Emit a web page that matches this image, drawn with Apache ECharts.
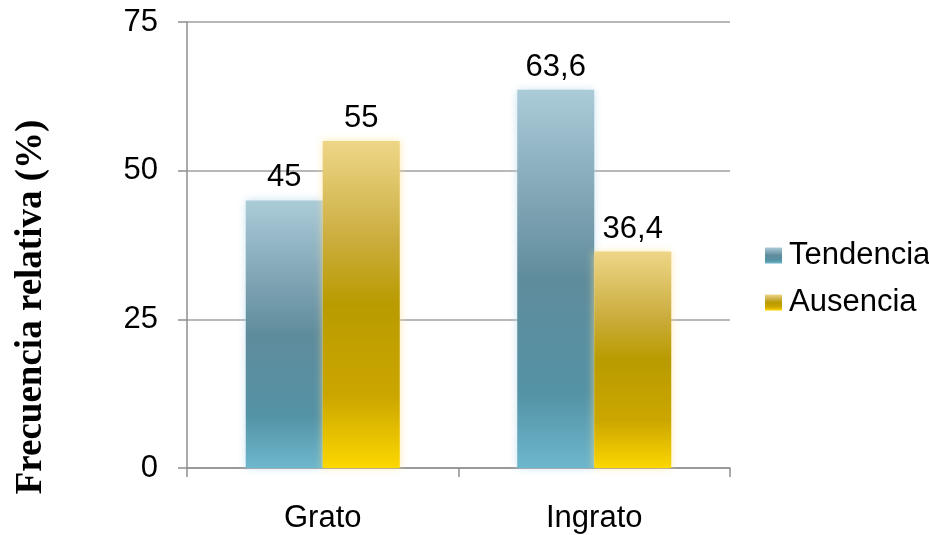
<!DOCTYPE html>
<html>
<head>
<meta charset="utf-8">
<style>
  html, body { margin: 0; padding: 0; background: #ffffff; }
  #chart { width: 929px; height: 535px; }
</style>
<script src="https://cdn.jsdelivr.net/npm/echarts@6/dist/echarts.min.js"></script>
</head>
<body>
<div id="chart"></div>
<script>
// Categories and series values (percent)
const categories = ['Grato', 'Ingrato'];
const tendencia = [45, 63.6];
const ausencia = [55, 36.4];
const yTicks = [0, 25, 50, 75];

const FONT = '"Liberation Sans", Arial, sans-serif';
const FS = 31;

function grad(stops) {
  return new echarts.graphic.LinearGradient(0, 0, 0, 1,
    stops.map(s => ({ offset: s[0], color: s[1] })));
}

const blueGrad = () => grad([
  [0, '#abcbd8'], [0.3, '#7fa4b4'], [0.5, '#5f8c9c'],
  [0.8, '#5492a5'], [1, '#6db7cd']
]);
const goldGrad = () => grad([
  [0, '#eed688'], [0.3, '#cbad3e'], [0.5, '#b99b00'],
  [0.78, '#cba600'], [1, '#fcd700']
]);

// Decimal comma for the value labels
const labelFmt = p => String(p.value).replace('.', ',');

const chart = echarts.init(document.getElementById('chart'), null, { renderer: 'canvas' });

chart.setOption({
  animation: false,
  backgroundColor: '#ffffff',
  grid: {
    left: 187, right: 199, top: 22, bottom: 67,
    containLabel: false,
    outerBoundsMode: 'none'
  },
  legend: {
    orient: 'vertical',
    left: 760,
    top: 235,
    itemWidth: 17,
    itemHeight: 16,
    itemGap: 16,
    icon: 'rect',
    textStyle: { fontFamily: FONT, fontSize: FS, color: '#000000', padding: [0, 0, 0, 2] },
    data: ['Tendencia', 'Ausencia']
  },
  xAxis: {
    type: 'category',
    data: categories,
    boundaryGap: true,
    axisLine: { lineStyle: { color: '#8e8e8e', width: 1.5 } },
    axisTick: { show: true, length: 9, lineStyle: { color: '#8e8e8e', width: 1.5 } },
    axisLabel: { fontFamily: FONT, fontSize: FS, color: '#000000', margin: 35 }
  },
  yAxis: {
    type: 'value',
    min: yTicks[0],
    max: yTicks[yTicks.length - 1],
    interval: 25,
    name: 'Frecuencia relativa (%)',
    nameLocation: 'middle',
    nameGap: 137,
    nameRotate: 90,
    nameTextStyle: {
      fontFamily: '"Liberation Serif", "Times New Roman", serif',
      fontWeight: 'bold', fontSize: 37, color: '#000000',
      padding: [0, 124, 0, 0]
    },
    axisLine: { show: true, lineStyle: { color: '#8e8e8e', width: 1.5 } },
    axisTick: { show: true, length: 9, lineStyle: { color: '#8e8e8e', width: 1.5 } },
    axisLabel: { fontFamily: FONT, fontSize: FS, color: '#000000', margin: 29 },
    splitLine: { show: true, lineStyle: { color: '#a0a0a0', width: 1.5 } }
  },
  series: [
    {
      name: 'Tendencia',
      type: 'bar',
      data: tendencia,
      barWidth: 77,
      barGap: '0%',
      itemStyle: {
        color: blueGrad(),
        shadowColor: 'rgba(180,215,235,0.7)',
        shadowBlur: 8
      },
      label: {
        show: true, position: 'top', distance: 7,
        formatter: labelFmt,
        fontFamily: FONT, fontSize: FS, color: '#000000'
      }
    },
    {
      name: 'Ausencia',
      type: 'bar',
      data: ausencia,
      barWidth: 77,
      barGap: '0%',
      itemStyle: {
        color: goldGrad(),
        shadowColor: 'rgba(255,225,140,0.7)',
        shadowBlur: 8
      },
      label: {
        show: true, position: 'top', distance: 7,
        formatter: labelFmt,
        fontFamily: FONT, fontSize: FS, color: '#000000'
      }
    }
  ]
});
</script>
</body>
</html>
